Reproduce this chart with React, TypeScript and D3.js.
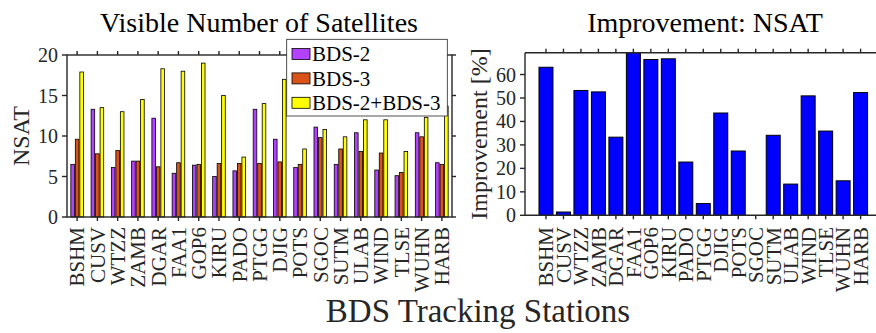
import React from 'react';
import * as d3 from 'd3';

const stations = ['BSHM', 'CUSV', 'WTZZ', 'ZAMB', 'DGAR', 'FAA1', 'GOP6', 'KIRU', 'PADO', 'PTGG',
    'DJIG', 'POTS', 'SGOC', 'SUTM', 'ULAB', 'WIND', 'TLSE', 'WUHN', 'HARB'];
const bds2 = [6.5, 13.3, 6.1, 6.9, 12.2, 5.4, 6.4, 5.0, 5.7, 13.3, 9.6, 6.1, 11.1, 6.5, 10.4, 5.8, 5.1, 10.4, 6.7];
const bds3 = [9.6, 7.8, 8.2, 6.9, 6.2, 6.7, 6.5, 6.6, 6.6, 6.6, 6.8, 6.5, 9.8, 8.4, 8.1, 7.9, 5.5, 9.9, 6.5];
const bdsBoth = [17.9, 13.5, 13.0, 14.5, 18.3, 18.0, 19.0, 15.0, 7.4, 14.0, 17.0, 8.4, 10.8, 9.9, 12.0, 12.0, 8.1, 12.3, 13.7];
const improvement = [63.1, 1.4, 53.2, 52.6, 33.3, 69.3, 66.4, 66.7, 22.7, 5.0, 43.6, 27.4, 0, 34.1, 13.3, 50.9, 35.9, 14.7, 52.3];

const seriesNames = ['BDS-2', 'BDS-3', 'BDS-2+BDS-3'];
const seriesColours = ['#b342ff', '#d95319', '#ffff00'];
const nsatTicks = [0, 5, 10, 15, 20];
const impTicks = [0, 10, 20, 30, 40, 50, 60];

const FONT = '"Liberation Serif", "Times New Roman", serif';
const AX = '#262626';

const App = () => {
    // left panel
    const L = { left: 67, right: 452, top: 55, bottom: 217 };
    const xL = d3.scaleBand().domain(stations).range([L.left, L.right]).padding(0);
    const bw = xL.bandwidth();
    const xSub = d3.scaleBand().domain(seriesNames)
        .range([bw * (0.5 - 0.333), bw * (0.5 + 0.333)])
        .paddingInner(0.2).paddingOuter(0.1);
    const yL = d3.scaleLinear().domain([0, 20]).range([L.bottom, L.top]);
    const seriesData = [bds2, bds3, bdsBoth];

    // right panel
    const R = { left: 525, right: 876, top: 52.7, bottom: 215.3 };
    const xR = d3.scaleLinear().domain([-0.2, 19]).range([R.left, 860.6]);
    const yR = d3.scaleLinear().domain([0, 69.3]).range([R.bottom, R.top]);
    const unit = xR(1) - xR(0);

    const labelY = 227;

    return (
        <svg width={876} height={333} style={{ position: 'absolute', left: 0, top: 0, background: '#fff' }}
            fontFamily={FONT}>
            {/* titles */}
            <text x={259} y={32} fontSize={28} textAnchor="middle" fill="#000">Visible Number of Satellites</text>
            <text x={705} y={32} fontSize={28} textAnchor="middle" fill="#000">Improvement: NSAT</text>
            <text x={478} y={322} fontSize={33} textAnchor="middle" fill={AX}>BDS Tracking Stations</text>

            {/* left bars */}
            {seriesData.map((vals, si) => (
                <g key={si}>
                    {vals.map((v, i) => (
                        <rect key={i}
                            x={(xL(stations[i]) as number) + (xSub(seriesNames[si]) as number)}
                            y={yL(v)}
                            width={xSub.bandwidth()}
                            height={yL(0) - yL(v)}
                            fill={seriesColours[si]} stroke="#000" strokeWidth={0.8} />
                    ))}
                </g>
            ))}

            {/* left frame and ticks */}
            <rect x={L.left} y={L.top} width={L.right - L.left} height={L.bottom - L.top}
                fill="none" stroke={AX} strokeWidth={1.4} />
            {nsatTicks.map(t => (
                <g key={t}>
                    <line x1={L.left - 5} x2={L.left} y1={yL(t)} y2={yL(t)} stroke={AX} strokeWidth={1.4} />
                    <line x1={L.right} x2={L.right + 4} y1={yL(t)} y2={yL(t)} stroke={AX} strokeWidth={1.4} />
                    <text x={L.left - 9} y={yL(t)} dy="0.35em" fontSize={20} textAnchor="end" fill={AX}>{t}</text>
                </g>
            ))}
            {stations.map(s => {
                const cx = (xL(s) as number) + bw / 2;
                return (
                    <g key={s}>
                        <line x1={cx} x2={cx} y1={L.top} y2={L.top - 4} stroke={AX} strokeWidth={1.4} />
                        <line x1={cx} x2={cx} y1={L.bottom} y2={L.bottom + 4} stroke={AX} strokeWidth={1.4} />
                        <text transform={`translate(${cx},${labelY}) rotate(-90)`} dy="0.35em" fontSize={21}
                            textAnchor="end" fill={AX}>{s}</text>
                    </g>
                );
            })}
            <text transform={`translate(29,${(L.top + L.bottom) / 2}) rotate(-90)`} fontSize={24}
                textAnchor="middle" fill={AX}>NSAT</text>

            {/* legend */}
            <g>
                <rect x={286.7} y={39.3} width={160.6} height={76.7} fill="#fff" stroke={AX} strokeWidth={0.8} />
                {seriesNames.map((n, i) => {
                    const cy = 54 + i * 24.4;
                    return (
                        <g key={n}>
                            <rect x={292} y={cy - 5.5} width={18} height={11} fill={seriesColours[i]} stroke="#000" strokeWidth={0.8} />
                            <text x={312} y={cy} dy="0.35em" fontSize={21} fill="#000">{n}</text>
                        </g>
                    );
                })}
            </g>

            {/* right bars */}
            {improvement.map((v, i) => (
                <rect key={i}
                    x={xR(i + 1) - 0.4 * unit}
                    y={yR(v)}
                    width={0.8 * unit}
                    height={yR(0) - yR(v)}
                    fill="#0000ff" stroke="#000" strokeWidth={1} />
            ))}
            <line x1={R.left} x2={R.right} y1={R.top} y2={R.top} stroke={AX} strokeWidth={1.4} />
            <line x1={R.left} x2={R.right} y1={R.bottom} y2={R.bottom} stroke={AX} strokeWidth={1.4} />
            <line x1={R.left} x2={R.left} y1={R.top} y2={R.bottom} stroke={AX} strokeWidth={1.4} />
            {impTicks.map(t => (
                <g key={t}>
                    <line x1={R.left - 5} x2={R.left} y1={yR(t)} y2={yR(t)} stroke={AX} strokeWidth={1.4} />
                    <text x={R.left - 9} y={yR(t)} dy="0.35em" fontSize={20} textAnchor="end" fill={AX}>{t}</text>
                </g>
            ))}
            {stations.map((s, i) => {
                const cx = xR(i + 1);
                return (
                    <g key={s}>
                        <line x1={cx} x2={cx} y1={R.top} y2={R.top - 4} stroke={AX} strokeWidth={1.4} />
                        <line x1={cx} x2={cx} y1={R.bottom} y2={R.bottom + 4} stroke={AX} strokeWidth={1.4} />
                        <text transform={`translate(${cx},${labelY}) rotate(-90)`} dy="0.35em" fontSize={21}
                            textAnchor="end" fill={AX}>{s}</text>
                    </g>
                );
            })}
            <text transform={`translate(487,${(R.top + R.bottom) / 2}) rotate(-90)`} fontSize={24}
                textAnchor="middle" fill={AX}>Improvement [%]</text>
        </svg>
    );
};

export default App;
